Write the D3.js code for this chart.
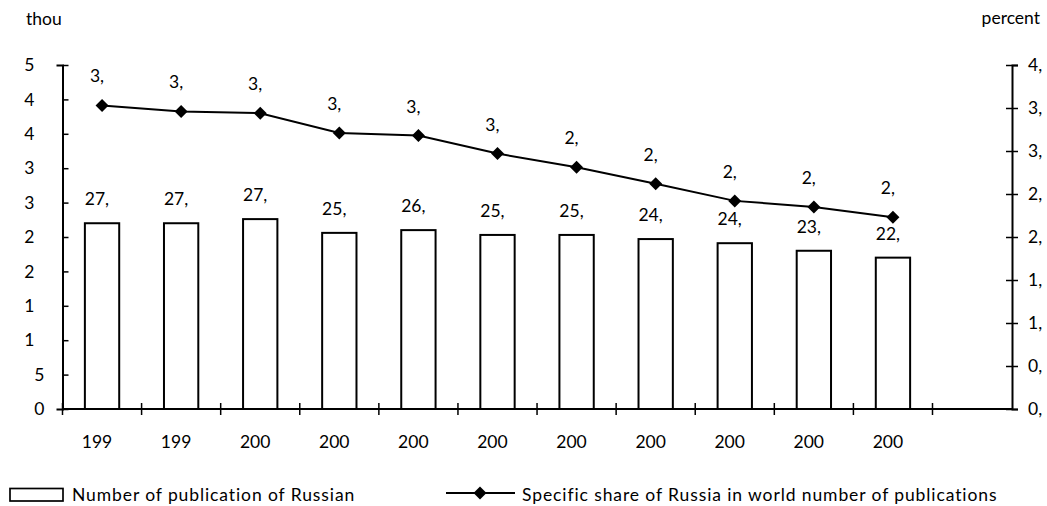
<!DOCTYPE html>
<html>
<head>
<meta charset="utf-8">
<script src="https://cdn.jsdelivr.net/npm/d3@7"></script>
<style>
  body { margin: 0; background: #fff; }
  svg { display: block; }
  text { font-family: Lato, "Open Sans", sans-serif; font-size: 17.5px; fill: #000; }
  .legend text { letter-spacing: 0.9px; }
</style>
</head>
<body>
<svg width="1047" height="506"></svg>
<script>
// values (thousands / percent)
var yearLabels = ["199", "199", "200", "200", "200", "200", "200", "200", "200", "200", "200"];
var pubCount = [27.0, 27.0, 27.6, 25.6, 26.0, 25.3, 25.3, 24.7, 24.1, 23.0, 22.0];
var pubLabels = ["27,", "27,", "27,", "25,", "26,", "25,", "25,", "24,", "24,", "23,", "22,"];
var worldShare = [3.53, 3.46, 3.44, 3.21, 3.18, 2.97, 2.81, 2.62, 2.42, 2.35, 2.23];
var shareLabels = ["3,", "3,", "3,", "3,", "3,", "3,", "2,", "2,", "2,", "2,", "2,"];
var leftTicks = [0, 5, 10, 15, 20, 25, 30, 35, 40, 45, 50];
var leftTickLabels = ["0", "5", "1", "1", "2", "2", "3", "3", "4", "4", "5"];
var rightTicks = [0, 0.5, 1, 1.5, 2, 2.5, 3, 3.5, 4];
var rightTickLabels = ["0,", "0,", "1,", "1,", "2,", "2,", "3,", "3,", "4,"];

var svg = d3.select("svg");

var plotLeft = 62.5, plotRight = 1012, plotTop = 65, plotBottom = 409;

var x = d3.scaleBand()
  .domain(d3.range(yearLabels.length))
  .range([plotLeft, 932.5]);

var yL = d3.scaleLinear().domain([0, 50]).range([plotBottom, plotTop]);
var yR = d3.scaleLinear().domain([0, 4]).range([plotBottom, plotTop]);

var barW = x.bandwidth() * 0.434;
var mid = function(i) { return x(i) + x.bandwidth() / 2; };

// width of one digit, the labels in the source lost their last digit
var probe = svg.append("text").text("0");
var digitW = probe.node().getComputedTextLength();
probe.remove();

// place a cut label where the full centred label would have started
var cutX = function(el, i) {
  var w = el.getComputedTextLength();
  return mid(i) - (w + digitW) / 2;
};

// bars
svg.selectAll(".bar")
  .data(pubCount)
  .enter()
  .append("rect")
  .attr("class", "bar")
  .attr("x", function(d, i) { return mid(i) - barW / 2; })
  .attr("y", function(d) { return yL(d); })
  .attr("width", barW)
  .attr("height", function(d) { return plotBottom - yL(d); })
  .attr("fill", "#fff")
  .attr("stroke", "#000")
  .attr("stroke-width", 2);

svg.selectAll(".barlab")
  .data(pubCount)
  .enter()
  .append("text")
  .attr("class", "barlab")
  .attr("y", function(d) { return yL(d) - 18; })
  .text(function(d, i) { return pubLabels[i]; })
  .attr("x", function(d, i) { return cutX(this, i); });

// left axis
var axL = svg.append("g")
  .attr("transform", "translate(" + plotLeft + ",0)")
  .call(d3.axisLeft(yL).tickValues(leftTicks).tickSize(6).tickPadding(12)
    .tickFormat(function(d, i) { return leftTickLabels[i]; }));
axL.select(".domain").attr("stroke-width", 2);
axL.selectAll(".tick line").attr("x2", 6).attr("stroke-width", 1.5);
axL.selectAll(".tick text")
  .style("font-size", "17.5px")
  .style("font-family", "Lato, sans-serif")
  .attr("dx", function(d) { return d >= 10 ? -digitW : 0; });

// right axis
var axR = svg.append("g")
  .attr("transform", "translate(" + plotRight + ",0)")
  .call(d3.axisRight(yR).tickValues(rightTicks).tickSize(6).tickPadding(10)
    .tickFormat(function(d, i) { return rightTickLabels[i]; }));
axR.select(".domain").attr("stroke-width", 2);
axR.selectAll(".tick line").attr("x1", -6).attr("stroke-width", 1.5);
axR.selectAll(".tick text")
  .style("font-size", "17.5px")
  .style("font-family", "Lato, sans-serif");

// x axis: line runs to the right axis, ticks between categories
svg.append("line")
  .attr("x1", plotLeft).attr("x2", plotRight)
  .attr("y1", plotBottom).attr("y2", plotBottom)
  .attr("stroke", "#000").attr("stroke-width", 2);

var bounds = x.domain().map(function(i) { return x(i); }).concat([x.range()[1]]);
svg.selectAll(".xtick")
  .data(bounds)
  .enter()
  .append("line")
  .attr("class", "xtick")
  .attr("x1", function(d) { return d; }).attr("x2", function(d) { return d; })
  .attr("y1", plotBottom - 6).attr("y2", plotBottom + 6)
  .attr("stroke", "#000").attr("stroke-width", 1.5);

svg.selectAll(".xlab")
  .data(yearLabels)
  .enter()
  .append("text")
  .attr("class", "xlab")
  .attr("y", 448)
  .text(function(d) { return d; })
  .attr("x", function(d, i) { return cutX(this, i); });

// share line
var line = d3.line()
  .x(function(d, i) { return mid(i); })
  .y(function(d) { return yR(d); });

svg.append("path")
  .datum(worldShare)
  .attr("d", line)
  .attr("fill", "none")
  .attr("stroke", "#000")
  .attr("stroke-width", 2);

var diamond = "M0,-6.5L6.5,0L0,6.5L-6.5,0Z";

svg.selectAll(".pt")
  .data(worldShare)
  .enter()
  .append("path")
  .attr("class", "pt")
  .attr("d", diamond)
  .attr("transform", function(d, i) {
    return "translate(" + mid(i) + "," + yR(d) + ")";
  })
  .attr("fill", "#000");

svg.selectAll(".ptlab")
  .data(worldShare)
  .enter()
  .append("text")
  .attr("class", "ptlab")
  .attr("y", function(d) { return yR(d) - 23; })
  .text(function(d, i) { return shareLabels[i]; })
  .attr("x", function(d, i) { return cutX(this, i); });

// unit titles
svg.append("text").attr("x", 26).attr("y", 25).text("thou");
svg.append("text").attr("x", 1040).attr("y", 24).attr("text-anchor", "end").text("percent");

// legend
var lg = svg.append("g").attr("class", "legend");
lg.append("rect")
  .attr("x", 10).attr("y", 488.5)
  .attr("width", 53).attr("height", 12.5)
  .attr("fill", "#fff").attr("stroke", "#000").attr("stroke-width", 1.7);
lg.append("text").attr("x", 72).attr("y", 501).text("Number of publication of Russian");

lg.append("line")
  .attr("x1", 446).attr("x2", 515)
  .attr("y1", 493).attr("y2", 493)
  .attr("stroke", "#000").attr("stroke-width", 2);
lg.append("path")
  .attr("d", diamond)
  .attr("transform", "translate(480,493)")
  .attr("fill", "#000");
lg.append("text").attr("x", 522).attr("y", 501).text("Specific share of Russia in world number of publications");
</script>
</body>
</html>
